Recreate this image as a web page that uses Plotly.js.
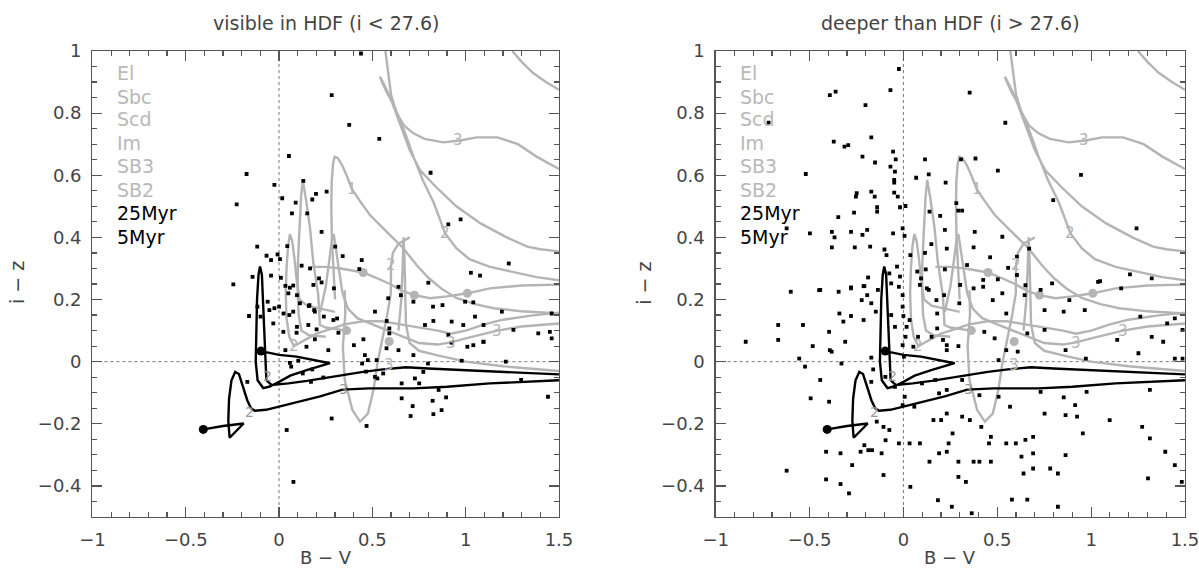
<!DOCTYPE html>
<html><head><meta charset="utf-8">
<script src="https://cdn.plot.ly/plotly-3.0.1.min.js"></script>
<style>html,body{margin:0;padding:0;background:#fff}#chart{width:1199px;height:571px}</style>
</head><body><div id="chart"></div>
<script>
// ---------- galaxy evolution tracks (gray) ----------
const elCornerX = [1.25, 1.30, 1.36, 1.43, 1.50];
const elCornerY = [1.00, 0.965, 0.930, 0.900, 0.875];
const elHighX = [0.570, 0.585, 0.600, 0.630, 0.670, 0.720, 0.780, 0.880, 0.970, 1.060, 1.170, 1.280, 1.380, 1.500];
const elHighY = [1.00, 0.93, 0.86, 0.80, 0.76, 0.735, 0.717, 0.706, 0.712, 0.722, 0.722, 0.700, 0.660, 0.620];
const sbcX = [1.50,1.40,1.33,1.22,1.08,0.95,0.84,0.755,0.70,0.648,0.594,0.560,0.541,0.548,0.575,0.610,0.640,0.670,0.720,0.770,0.830,0.860,0.890,0.950,1.020,1.130,1.250,1.380,1.500];
const sbcY = [0.355,0.362,0.370,0.400,0.445,0.500,0.563,0.617,0.681,0.767,0.853,0.895,0.917,0.905,0.870,0.830,0.790,0.745,0.660,0.585,0.510,0.460,0.413,0.365,0.330,0.305,0.288,0.272,0.262];
const circleLineX = [0.17,0.25,0.33,0.40,0.451,0.52,0.594,0.66,0.725,0.81,0.90,1.009,1.13,1.30,1.50];
const circleLineY = [0.305,0.305,0.300,0.293,0.287,0.270,0.250,0.228,0.214,0.204,0.210,0.220,0.236,0.245,0.248];
const scdX = [0.30,0.29,0.283,0.280,0.282,0.290,0.298,0.315,0.340,0.365,0.390,0.430,0.487,0.577,0.666,0.737,0.800,0.870,0.950,1.050,1.150,1.300,1.500];
const scdY = [0.20,0.30,0.40,0.50,0.58,0.64,0.66,0.655,0.630,0.595,0.556,0.520,0.472,0.418,0.365,0.311,0.270,0.235,0.205,0.185,0.172,0.162,0.155];
const imX = [0.36,0.30,0.25,0.219,0.21,0.183,0.166,0.145,0.127,0.118,0.110,0.105,0.100,0.100,0.105,0.120,0.160,0.250];
const imY = [0.10,0.105,0.11,0.118,0.214,0.322,0.430,0.520,0.585,0.530,0.450,0.370,0.300,0.220,0.150,0.100,0.085,0.080];
const sb3X = [0.30,0.22,0.15,0.11,0.095,0.083,0.070,0.058,0.048,0.040,0.036,0.040,0.055,0.080,0.140,0.200,0.250,0.350,0.450,0.550,0.650,0.750,0.850,0.920,1.000,1.100,1.200,1.350,1.500];
const sb3Y = [0.16,0.17,0.18,0.20,0.26,0.33,0.39,0.41,0.37,0.30,0.22,0.14,0.08,0.05,0.07,0.09,0.10,0.12,0.13,0.13,0.12,0.11,0.10,0.09,0.10,0.12,0.135,0.148,0.158];
const spike2X = [0.22,0.25,0.27,0.285,0.293,0.305,0.32,0.34,0.37,0.42,0.50,0.58,0.66,0.75,0.85,0.92,1.00,1.10,1.17,1.30,1.50];
const spike2Y = [0.16,0.24,0.33,0.40,0.41,0.36,0.29,0.22,0.17,0.14,0.12,0.10,0.08,0.06,0.055,0.062,0.075,0.09,0.10,0.113,0.123];
const sb2LoopX = [0.352,0.355,0.342,0.352,0.393,0.434,0.476,0.506,0.527,0.558,0.578,0.599,0.600,0.610,0.640,0.700];
const sb2LoopY = [0.23,0.155,0.048,-0.059,-0.156,-0.193,-0.167,-0.091,-0.006,0.080,0.145,0.220,0.310,0.350,0.380,0.400];
const vSpikeX = [0.64,0.655,0.662,0.667,0.672,0.675,0.68,0.70,0.75,0.85,1.00,1.20,1.50];
const vSpikeY = [0.10,0.20,0.30,0.40,0.33,0.22,0.12,0.06,0.035,0.02,0.00,-0.015,-0.03];
const grayStartX = [0.451, 0.725, 1.009, 0.362, 0.590];
const grayStartY = [0.287, 0.214, 0.220, 0.100, 0.065];
// redshift labels on tracks
const zLabelX = [0.96, 0.889, 0.60, 0.39, 0.08, 0.59, 0.92, 1.17];
const zLabelY = [0.713, 0.413, 0.31, 0.556, 0.05, -0.01, 0.06, 0.10];
const zLabelT = ["3", "2", "2", "1", "2", "3", "3", "3"];
const sbLabelX = [-0.156, -0.06, 0.345];
const sbLabelY = [-0.161, -0.045, -0.088];
const sbLabelT = ["2", "2", "3"];

// ---------- starburst tracks (black) ----------
const myr5X = [-0.406,-0.30,-0.19,-0.265,-0.272,-0.268,-0.255,-0.235,-0.215,-0.195,-0.17,-0.15,-0.13,-0.07,0.0,0.11,0.22,0.34,0.48,0.72,0.90,1.13,1.50];
const myr5Y = [-0.218,-0.207,-0.199,-0.245,-0.19,-0.12,-0.06,-0.033,-0.04,-0.08,-0.125,-0.15,-0.158,-0.155,-0.145,-0.128,-0.112,-0.09,-0.086,-0.086,-0.081,-0.07,-0.06];
const myr25X = [-0.097,0.0,0.094,0.184,0.273,0.148,0.06,0.0,-0.05,-0.085,-0.115,-0.125,-0.123,-0.118,-0.11,-0.102,-0.092,-0.086,-0.08,-0.074,-0.068,-0.04,0.05,0.15,0.25,0.352,0.45,0.557,0.68,0.80,0.968,1.20,1.50];
const myr25Y = [0.034,0.022,0.016,0.005,-0.005,-0.027,-0.045,-0.065,-0.08,-0.085,-0.06,0.0,0.10,0.20,0.28,0.306,0.28,0.18,0.08,-0.02,-0.06,-0.075,-0.07,-0.062,-0.052,-0.043,-0.033,-0.025,-0.018,-0.022,-0.027,-0.034,-0.041];
const blackStartX = [-0.406, -0.097];
const blackStartY = [-0.218, 0.034];

// ---------- legend ----------
const legendNames = ["El", "Sbc", "Scd", "Im", "SB3", "SB2", "25Myr", "5Myr"];
const legendY = [0.929, 0.852, 0.781, 0.704, 0.630, 0.552, 0.478, 0.401];
const legendIsBlack = [false, false, false, false, false, false, true, true];

// ---------- HDF objects ----------
const visibleX = [0.439,0.282,0.376,0.537,0.053,-0.174,0.812,-0.025,0.017,0.13,0.198,0.178,0.255,0.089,-0.227,
0.069,0.151,0.228,0.907,0.973,-0.117,-0.067,-0.043,-0.008,0.005,0.044,0.301,0.341,0.443,0.43,0.121,0.166,0.214,1.231,1.028,1.077,
-0.245,-0.142,-0.043,0.01,0.058,0.076,0.05,0.184,0.228,0.294,0.8,
0.112,0.16,0.076,0.0,-0.025,-0.061,-0.031,0.192,0.291,0.585,0.653,0.72,0.997,1.041,0.514,0.577,0.827,0.925,0.987,
-0.161,-0.099,0.024,0.055,0.096,0.157,0.188,0.24,0.311,
0.023,0.094,0.201,0.264,0.318,0.401,0.452,0.46,0.523,0.576,0.591,0.591,0.72,0.782,0.798,0.907,0.925,0.979,1.041,1.095,
0.192,0.147,0.034,
-0.17,0.058,0.103,0.171,0.237,0.514,0.657,0.728,0.751,0.657,0.716,0.705,0.823,0.871,0.827,0.895,0.855,0.282,0.469,0.041,0.077,
0.065,0.127,0.178,0.445,0.466,0.527,0.558,0.773,
1.05,1.096,1.096,1.194,1.256,1.215,1.297,1.389,1.451,1.461,1.461,1.441,1.009,0.64,0.876,0.825,0.64,
-0.116,-0.052,0.096,0.034,0.163,0.476];
const visibleY = [0.992,0.858,0.762,0.717,0.662,0.604,0.608,0.569,0.526,0.582,0.54,0.522,0.547,0.512,0.506,
0.477,0.477,0.418,0.442,0.458,0.37,0.341,0.327,0.345,0.33,0.372,0.37,0.34,0.327,0.298,0.309,0.3,0.268,0.316,0.286,0.277,
0.249,0.273,0.277,0.27,0.238,0.245,0.22,0.247,0.255,0.236,0.254,
0.188,0.179,0.161,0.177,0.172,0.193,0.123,0.161,0.134,0.204,0.214,0.193,0.193,0.191,0.161,0.131,0.131,0.129,0.118,
0.147,0.145,0.155,0.15,0.112,0.118,0.166,0.145,0.139,
0.096,0.093,0.104,0.037,0.093,0.053,0.072,0.021,0.005,0.043,0.107,0.091,0.021,0.118,-0.006,0.086,0.061,0.003,0.053,0.064,
0.072,0.048,0.037,
-0.065,-0.004,0.003,-0.065,-0.051,-0.049,-0.07,-0.054,-0.07,-0.118,-0.143,-0.175,-0.126,-0.156,-0.169,-0.115,-0.091,-0.183,-0.207,-0.22,-0.387,
-0.016,-0.038,-0.025,-0.006,-0.032,-0.054,-0.038,-0.033,
0.145,0.118,0.064,0.161,0.102,0.0,-0.059,0.091,0.096,0.155,0.075,-0.113,0.048,0.241,0.182,0.177,0.037,
0.177,0.166,0.214,0.244,0.182,0.005];

const deeperX = [-0.024,-0.392,-0.361,-0.069,0.353,-0.202,-0.718,0.543,-0.171,-0.371,-0.314,-0.294,-0.055,-0.218,-0.151,-0.041,0.115,0.307,0.384,
-0.069,-0.045,-0.52,0.503,0.946,0.068,0.135,0.225,-0.049,-0.049,-0.249,-0.171,-0.253,-0.153,-0.049,-0.03,0.798,
-0.347,-0.263,-0.14,-0.14,-0.018,0.011,0.139,0.282,0.292,0.313,0.196,0.149,0.38,0.527,1.242,-0.622,-0.498,-0.381,-0.367,-0.381,
-0.279,-0.259,-0.218,-0.193,-0.177,-0.101,-0.055,-0.004,0.006,-0.09,0.037,0.115,0.221,0.231,0.374,0.462,0.605,0.67,0.558,1.207,1.323,1.048,
-0.034,-0.018,-0.188,-0.075,0.074,0.119,0.094,0.221,0.339,0.503,0.605,-0.279,-0.208,-0.449,0.125,0.374,0.425,
-0.6,-0.443,-0.345,-0.279,-0.212,-0.193,-0.222,-0.136,-0.171,-0.147,-0.212,-0.279,-0.341,-0.32,-0.396,-0.31,-0.382,-0.392,-0.483,-0.535,
-0.667,-0.667,-0.84,-0.555,-0.524,-0.443,-0.494,-0.396,-0.33,-0.161,-0.171,-0.065,-0.024,-0.004,-0.004,-0.065,0.0,-0.045,0.017,0.033,
0.011,-0.004,0.053,0.003,0.078,0.088,0.135,0.176,0.18,0.18,0.211,0.231,0.231,0.293,0.15,0.217,0.298,0.302,0.431,0.476,0.548,0.486,
0.507,0.548,0.609,0.646,0.66,0.752,0.752,0.854,0.864,0.966,0.972,1.037,1.139,1.252,1.262,1.323,1.384,1.405,1.446,1.487,1.487,1.446,
1.16,0.792,0.65,0.527,0.425,0.731,0.884,
-0.171,-0.096,-0.045,0.007,-0.004,0.058,0.099,0.17,0.19,0.231,0.313,0.405,0.507,0.568,0.752,0.854,0.915,0.731,0.976,1.313,
-0.142,-0.075,-0.095,-0.024,0.033,0.088,-0.116,-0.187,-0.208,-0.228,-0.167,-0.412,-0.335,-0.273,-0.412,-0.335,-0.29,-0.106,0.037,-0.622,
0.139,0.19,0.231,0.241,0.262,0.201,0.16,0.231,0.313,0.354,0.415,0.466,0.456,0.548,0.599,0.65,0.691,0.629,0.691,0.64,0.691,0.782,0.823,
0.864,0.956,0.925,0.864,1.099,1.272,1.313,1.395,1.446,1.483,1.303,0.293,0.374,0.333,0.293,0.405,0.466,0.184,0.258,0.578,0.66,0.823,0.364,-0.106];
const deeperY = [0.942,0.858,0.869,0.874,0.866,0.826,0.769,0.769,0.722,0.708,0.692,0.697,0.676,0.66,0.641,0.651,0.651,0.651,0.654,
0.628,0.612,0.604,0.615,0.601,0.592,0.603,0.576,0.585,0.576,0.542,0.547,0.531,0.531,0.544,0.531,0.52,
0.465,0.48,0.497,0.483,0.497,0.501,0.483,0.51,0.486,0.486,0.469,0.378,0.418,0.402,0.429,0.429,0.413,0.418,0.4,0.368,
0.418,0.368,0.408,0.424,0.37,0.361,0.413,0.429,0.405,0.343,0.343,0.35,0.424,0.364,0.368,0.336,0.338,0.364,0.302,0.281,0.268,0.259,
0.306,0.274,0.271,0.284,0.29,0.297,0.268,0.297,0.311,0.265,0.279,0.239,0.243,0.23,0.236,0.236,0.263,
0.225,0.231,0.225,0.236,0.243,0.214,0.198,0.231,0.188,0.161,0.134,0.147,0.155,0.129,0.096,0.064,0.032,0.037,0.05,0.118,
0.118,0.07,0.064,0.01,-0.016,-0.059,-0.118,-0.129,-0.006,-0.025,0.013,0.252,0.241,0.214,0.177,0.15,0.147,0.112,0.112,0.134,
0.08,0.053,0.048,0.016,0.08,0.247,0.231,0.198,0.155,0.107,0.07,0.053,0.037,0.05,0.08,0.214,0.188,0.247,0.096,0.198,0.155,0.075,
0.005,0.037,0.032,0.214,0.091,0.166,0.102,0.161,0.037,0.166,0.01,0.257,0.07,0.027,0.145,0.08,0.064,0.123,0.01,0.01,0.102,0.139,
0.236,0.252,0.246,0.22,0.241,0.231,0.198,
-0.065,-0.049,-0.081,-0.113,-0.14,-0.145,-0.07,-0.059,-0.102,-0.091,-0.059,-0.108,-0.113,-0.145,-0.167,-0.115,-0.14,-0.097,-0.097,-0.091,
-0.193,-0.22,-0.253,-0.263,-0.263,-0.263,-0.295,-0.285,-0.269,-0.29,-0.285,-0.29,-0.295,-0.333,-0.379,-0.394,-0.424,-0.365,-0.403,-0.351,
-0.322,-0.295,-0.29,-0.263,-0.231,-0.188,-0.188,-0.167,-0.177,-0.188,-0.21,-0.242,-0.263,-0.263,-0.263,-0.252,-0.242,-0.306,-0.295,-0.36,-0.344,-0.344,-0.36,
-0.301,-0.231,-0.177,-0.172,-0.188,-0.21,-0.247,-0.29,-0.333,-0.387,-0.376,-0.322,-0.322,-0.387,-0.371,-0.322,-0.322,-0.446,-0.467,-0.444,-0.444,-0.467,-0.488,-0.21];

// ---------- build ----------
const GRAY = '#b4b4b4';
const grayTracks = [[elCornerX, elCornerY],[elHighX, elHighY],[sbcX, sbcY],[circleLineX, circleLineY],[scdX, scdY],
  [imX, imY],[sb3X, sb3Y],[spike2X, spike2Y],[sb2LoopX, sb2LoopY],[vSpikeX, vSpikeY]];
const blackTracks = [[myr5X, myr5Y],[myr25X, myr25Y]];
const panels = [
  {xa:'x', ya:'y', px:visibleX, py:visibleY, title:'visible in HDF (i < 27.6)', cx:0.2716, ytx:0.0142},
  {xa:'x2', ya:'y2', px:deeperX, py:deeperY, title:'deeper than HDF (i > 27.6)', cx:0.7926, ytx:0.537}
];
const traces = [];
const annotations = [];
const shapes = [];
const FONT = 'DejaVu Sans, Arial, sans-serif';
panels.forEach(p => {
  grayTracks.forEach(t => traces.push({x:t[0], y:t[1], xaxis:p.xa, yaxis:p.ya, mode:'lines',
    line:{color:GRAY, width:2.4}, hoverinfo:'skip', showlegend:false}));
  traces.push({x:grayStartX, y:grayStartY, xaxis:p.xa, yaxis:p.ya, mode:'markers',
    marker:{color:GRAY, size:9, symbol:'circle'}, hoverinfo:'skip', showlegend:false});
  blackTracks.forEach(t => traces.push({x:t[0], y:t[1], xaxis:p.xa, yaxis:p.ya, mode:'lines',
    line:{color:'#000', width:2.4}, hoverinfo:'skip', showlegend:false}));
  traces.push({x:blackStartX, y:blackStartY, xaxis:p.xa, yaxis:p.ya, mode:'markers',
    marker:{color:'#000', size:9, symbol:'circle'}, hoverinfo:'skip', showlegend:false});
  traces.push({x:p.px, y:p.py, xaxis:p.xa, yaxis:p.ya, mode:'markers',
    marker:{color:'#000', size:3.8, symbol:'square'}, showlegend:false});
  zLabelT.forEach((t,i) => annotations.push({x:zLabelX[i], y:zLabelY[i], xref:p.xa, yref:p.ya, text:t, showarrow:false,
    font:{family:FONT, size:15, color:GRAY}}));
  sbLabelT.forEach((t,i) => annotations.push({x:sbLabelX[i], y:sbLabelY[i], xref:p.xa, yref:p.ya, text:t, showarrow:false,
    font:{family:FONT, size:14, color:'#999'}}));
  legendNames.forEach((n,i) => annotations.push({x:-0.879, y:legendY[i], xref:p.xa, yref:p.ya, xanchor:'left', yanchor:'middle', text:n, showarrow:false,
    font:{family:FONT, size:19, color: legendIsBlack[i] ? '#000' : '#b8b8b8'}}));
  annotations.push({x:p.cx, y:0.9597, xref:'paper', yref:'paper', xanchor:'center', yanchor:'middle', text:p.title, showarrow:false, font:{family:FONT, size:19, color:'#444'}});
  annotations.push({x:p.cx, y:0.0245, xref:'paper', yref:'paper', xanchor:'center', yanchor:'middle', text:'B − V', showarrow:false, font:{family:FONT, size:18, color:'#444'}});
  annotations.push({x:p.ytx, y:0.5044, xref:'paper', yref:'paper', xanchor:'center', yanchor:'middle', text:'i − z', textangle:-90, showarrow:false, font:{family:FONT, size:19, color:'#444'}});
  shapes.push({type:'line', xref:p.xa, yref:p.ya, x0:0, x1:0, y0:-0.5, y1:1, layer:'below', line:{color:'#777', width:1, dash:'dot'}});
  shapes.push({type:'line', xref:p.xa, yref:p.ya, x0:-1, x1:1.5, y0:0, y1:0, layer:'below', line:{color:'#777', width:1, dash:'dot'}});
});
function xAxis(dom, anchor){ return {domain:dom, anchor:anchor, range:[-1,1.5], tick0:0, dtick:0.5, ticks:'inside', ticklen:10, tickwidth:1.2,
  tickcolor:'#555', mirror:'ticks', showline:true, linecolor:'#555', linewidth:1.3, showgrid:false, zeroline:false, ticklabeloverflow:'allow',
  minor:{ticks:'inside', dtick:0.1, ticklen:5, tickcolor:'#555', tickwidth:1.2}, tickfont:{family:FONT, size:18, color:'#444'}, ticklabelstandoff:6}; }
function yAxis(anchor){ return {domain:[0.0946,0.9107], anchor:anchor, range:[-0.5,1], tick0:0, dtick:0.2, ticks:'inside', ticklen:10, tickwidth:1.2,
  tickcolor:'#555', mirror:'ticks', showline:true, linecolor:'#555', linewidth:1.3, showgrid:false, zeroline:false,
  minor:{ticks:'inside', dtick:0.05, ticklen:5, tickcolor:'#555', tickwidth:1.2}, tickfont:{family:FONT, size:18, color:'#444'}, ticklabelstandoff:6}; }
const layout = {
  width:1199, height:571, margin:{l:0,r:0,t:0,b:0}, paper_bgcolor:'#fff', plot_bgcolor:'#fff', showlegend:false,
  xaxis:xAxis([0.0771,0.4662],'y'), yaxis:yAxis('x'),
  xaxis2:xAxis([0.5969,0.9883],'y2'), yaxis2:yAxis('x2'),
  annotations:annotations, shapes:shapes
};
Plotly.newPlot('chart', traces, layout, {staticPlot:true, displayModeBar:false});
</script></body></html>
